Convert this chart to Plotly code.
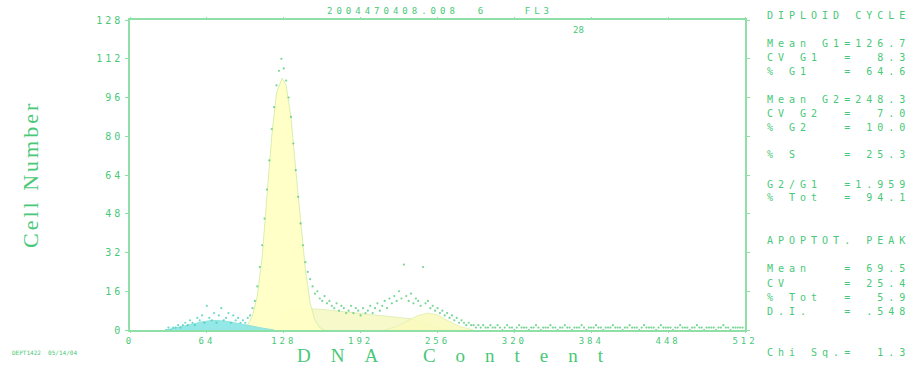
import plotly.graph_objects as go

# ---- DNA histogram (channel, cell count) ----
channels = list(range(30, 512, 2))
counts = [
    0, 1, 0, 1, 1, 2, 1, 2, 3, 2,          # 30-48
    4, 3, 2, 5, 4, 6, 3, 10, 5, 4,         # 50-68
    7, 3, 6, 9, 4, 5, 7, 3, 6, 4,          # 70-88
    5, 3, 4, 3, 5, 6, 9, 12, 18, 26,       # 90-108
    35, 46, 58, 70, 83, 92, 101, 107, 112, 108,   # 110-128
    103, 96, 88, 77, 66, 55, 44, 35, 28, 24,      # 130-148
    21, 18, 15, 16, 13, 12, 14, 11, 12, 10,       # 150-168
    9, 11, 8, 10, 9, 7, 8, 10, 7, 9,              # 170-188
    8, 6, 9, 7, 8, 10, 7, 9, 11, 8,               # 190-208
    10, 12, 9, 13, 11, 14, 12, 16, 13, 27,        # 210-228
    14, 12, 15, 11, 13, 12, 10, 26, 11, 12,       # 230-248
    9, 10, 8, 9, 7, 8, 6, 7, 5, 6,                # 250-268
    4, 5, 3, 4, 3, 2, 3, 2, 2, 1,                 # 270-288
    2, 1, 2, 1, 1, 2, 1, 1, 2, 1,                 # 290-308
    0, 1, 2, 1, 1, 0, 1, 2, 1, 1,                 # 310-328
    1, 0, 1, 1, 2, 1, 0, 1, 1, 1,                 # 330-348
    2, 1, 1, 0, 1, 1, 2, 1, 1, 0,                 # 350-368
    1, 1, 1, 2, 1, 0, 1, 1, 1, 2,                 # 370-388
    1, 1, 0, 1, 1, 1, 2, 1, 1, 1,                 # 390-408
    0, 1, 1, 2, 1, 1, 1, 0, 1, 2,                 # 410-428
    1, 1, 1, 1, 0, 1, 2, 1, 1, 1,                 # 430-448
    1, 0, 1, 1, 2, 1, 1, 1, 0, 1,                 # 450-468
    1, 2, 1, 1, 0, 1, 1, 1, 1, 0,                 # 470-488
    1, 1, 2, 1, 1, 0, 1, 1, 1, 1,                 # 490-508
    1,                                            # 510
]

# ---- model components ----
g1_ch = [94, 98, 102, 106, 110, 114, 118, 122, 126.7, 130, 134, 138, 142, 146, 150, 154, 158, 162]
g1_ct = [0, 2, 6, 14, 30, 54, 80, 98, 104, 101, 88, 66, 44, 25, 11, 4, 1, 0]

s_ch = [108, 118, 128, 140, 160, 180, 200, 220, 236, 248, 258, 268]
s_ct = [0, 3, 7, 9, 8.5, 7.5, 6.5, 5.5, 4.5, 2.5, 0.8, 0]

g2_ch = [212, 222, 232, 240, 248.3, 256, 264, 274, 286]
g2_ct = [0, 1.5, 4, 6, 7, 6.2, 4, 1.5, 0]

ap_ch = [30, 40, 50, 60, 69.5, 80, 90, 100, 110, 120]
ap_ct = [0, 1, 2.2, 3.4, 4, 3.6, 2.8, 1.8, 0.8, 0]

x_ticks = [0, 64, 128, 192, 256, 320, 384, 448, 512]
y_ticks = [0, 16, 32, 48, 64, 80, 96, 112, 128]

stats_lines = [
    "DIPLOID CYCLE",
    "Mean G1=126.7",
    "CV G1  =  8.3",
    "% G1   = 64.6",
    "Mean G2=248.3",
    "CV G2  =  7.0",
    "% G2   = 10.0",
    "% S    = 25.3",
    "G2/G1  =1.959",
    "% Tot  = 94.1",
    "APOPTOT. PEAK",
    "Mean   = 69.5",
    "CV     = 25.4",
    "% Tot  =  5.9",
    "D.I.   = .548",
    "Chi Sq.=  1.3",
]
stats_y = [15, 43, 57, 71, 99, 113, 127, 155, 184, 197, 240, 268, 283, 297, 311, 352]

GREEN = "#48c878"
AXIS = "#8ee0a6"
MONO = "DejaVu Sans Mono"
SERIF = "Liberation Serif"

W, H = 915, 370
L, R, T, B = 130, 745, 20, 330


def px(x):
    return (x - L) / (R - L)


def py(y):
    return (B - y) / (B - T)


def spaced(text, ls):
    return f'<span style="letter-spacing:{ls}px">{text}</span>'


fig = go.Figure()

fig.add_trace(go.Scatter(x=s_ch, y=s_ct, fill="tozeroy", mode="lines",
                         line=dict(color="#e2f0b8", width=1),
                         fillcolor="rgba(246,248,196,0.9)", hoverinfo="skip"))
fig.add_trace(go.Scatter(x=g2_ch, y=g2_ct, fill="tozeroy", mode="lines",
                         line=dict(color="#e6f2b4", width=1),
                         fillcolor="rgba(250,250,190,0.9)", hoverinfo="skip"))
fig.add_trace(go.Scatter(x=g1_ch, y=g1_ct, fill="tozeroy", mode="lines",
                         line=dict(color="#d8f0b0", width=1),
                         fillcolor="rgba(255,255,196,0.95)", hoverinfo="skip"))
fig.add_trace(go.Scatter(x=ap_ch, y=ap_ct, fill="tozeroy", mode="lines",
                         line=dict(color="#8ee4dc", width=1),
                         fillcolor="rgba(130,228,228,0.85)", hoverinfo="skip"))

dot_colors = ["#3ccfb8" if c < 100 else "#4cc870" for c in channels]
fig.add_trace(go.Scatter(x=channels, y=counts, mode="markers",
                         marker=dict(size=2.2, color=dot_colors, opacity=0.75),
                         hoverinfo="skip"))

axis_common = dict(showgrid=False, zeroline=False, showline=True, linecolor=AXIS,
                   linewidth=1.5, mirror="ticks", ticks="outside", ticklen=3,
                   tickcolor=AXIS, tickwidth=1,
                   tickfont=dict(family=MONO, size=10, color=GREEN))

fig.update_layout(
    width=W, height=H,
    margin=dict(l=L, r=W - R, t=T, b=H - B),
    paper_bgcolor="white", plot_bgcolor="white",
    showlegend=False,
    xaxis=dict(range=[0, 512], tickvals=x_ticks,
               ticktext=[spaced(str(v), 3) for v in x_ticks], **axis_common),
    yaxis=dict(range=[0, 128], tickvals=y_ticks,
               ticktext=[spaced(str(v), 3) for v in y_ticks], **axis_common),
)
fig.update_xaxes(ticklen=1, ticklabelstandoff=0, tickfont=dict(size=9))

annotations = []
for line, y in zip(stats_lines, stats_y):
    annotations.append(dict(text=spaced(line.replace(" ", "&nbsp;"), 5), x=px(765), y=py(y),
                            xref="paper", yref="paper", xanchor="left", yanchor="middle",
                            showarrow=False, font=dict(family=MONO, size=10, color=GREEN)))

annotations += [
    dict(text=spaced("2004470408.008&nbsp;&nbsp;6&nbsp;&nbsp;&nbsp;&nbsp;FL3", 4),
         x=px(325), y=py(11), xref="paper", yref="paper", xanchor="left",
         yanchor="middle", showarrow=False, font=dict(family=MONO, size=9, color=GREEN)),
    dict(text="28", x=px(578), y=py(30), xref="paper", yref="paper",
         xanchor="center", yanchor="middle", showarrow=False,
         font=dict(family=MONO, size=9, color=GREEN)),
    dict(text=spaced("DNA&nbsp;Content", 20), x=px(295), y=py(355), xref="paper",
         yref="paper", xanchor="left", yanchor="middle", showarrow=False,
         font=dict(family=SERIF, size=19, color=GREEN)),
    dict(text=spaced("Cell&nbsp;Number", 3), x=px(30), y=py(175), xref="paper",
         yref="paper", xanchor="center", yanchor="middle", textangle=-90,
         showarrow=False, font=dict(family=SERIF, size=22, color=GREEN)),
    dict(text="DEPT1422&nbsp;&nbsp;05/14/04", x=px(10), y=py(352), xref="paper",
         yref="paper", xanchor="left", yanchor="middle", showarrow=False,
         font=dict(family=MONO, size=6, color=GREEN)),
]
fig.update_layout(annotations=annotations)

fig.write_html("out.html")
